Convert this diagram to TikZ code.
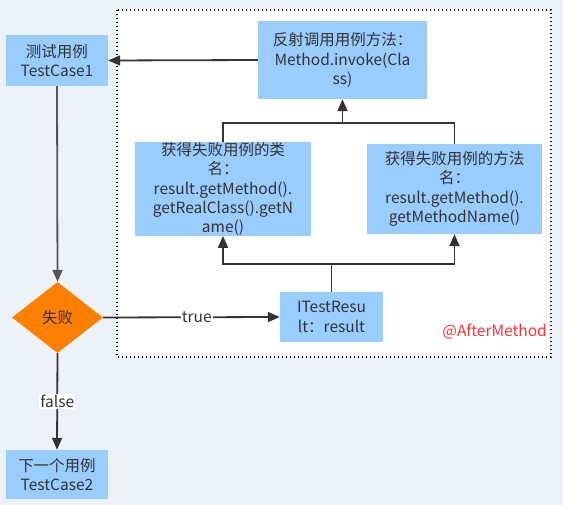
\documentclass[tikz,border=0pt]{standalone}
\usepackage{fontspec}
\setmainfont{Noto Sans CJK SC}
\usetikzlibrary{shapes.geometric,arrows.meta}
\definecolor{bg}{HTML}{EDF2F9}
\definecolor{boxblue}{HTML}{99CCFF}
\definecolor{dorange}{HTML}{FF8000}
\definecolor{txt}{HTML}{333333}
\definecolor{lgray}{HTML}{555555}
\definecolor{red1}{HTML}{FF3333}
\begin{document}
\begin{tikzpicture}[x=1pt,y=-1pt,
  box/.style={fill=boxblue, draw=none, inner sep=0pt, align=center, text=txt, font=\fontsize{15.5}{19.3}\selectfont},
  dia/.style={diamond, fill=dorange, draw=none, inner sep=0pt, text=txt, font=\fontsize{15.5}{19}\selectfont},
  conn/.style={draw=txt, line width=1.8pt},
  arr/.style={conn, -{Triangle[length=12pt,width=10pt]}},
  lbl/.style={fill=white, inner sep=1pt, text=txt, font=\fontsize{15.5}{17}\selectfont}]
\useasboundingbox (0,0) rectangle (563,505);
\fill[bg] (0,0) rectangle (563,505);
\draw[fill=white, draw=black, line width=1.3pt, dash pattern=on 1.4pt off 2.6pt] (117,10) rectangle (551,357);

\node[box, minimum width=102pt, minimum height=51pt] (tc1) at (57,60.5) {测试用例\\TestCase1};
\node[box, minimum width=169pt, minimum height=78pt] (inv) at (342.5,60) {反射调用用例方法：\\Method.invoke(Cla\\ss)};
\node[box, minimum width=176pt, minimum height=90pt] (cls) at (223,189) {获得失败用例的类\\名：\\result.getMethod().\\getRealClass().getN\\ame()};
\node[box, minimum width=175pt, minimum height=90pt] (mth) at (454.5,189) {获得失败用例的方法\\名：\\result.getMethod().\\getMethodName()};
\node[box, minimum width=103pt, minimum height=50pt] (itr) at (331.5,317) {ITestResu\\lt：result};
\node[dia, minimum width=91pt, minimum height=71pt] (fail) at (57.5,317.5) {失败};
\node[box, minimum width=102pt, minimum height=49pt] (tc2) at (57,474.5) {下一个用例\\TestCase2};
\node[anchor=east, text=red1, font=\fontsize{15.5}{17}\selectfont, inner sep=0pt] (am) at (547,332) {@AfterMethod};

\coordinate (j1) at (331.5,264);
\coordinate (j2) at (342.5,123);

\draw[arr] (inv.west) -- (tc1.east);
\draw[arr, draw=lgray] (tc1.south) -- (fail.north);
\draw[arr] (fail.east) -- node[lbl, pos=0.53] {true} (itr.west);
\draw[arr] (fail.south) -- node[lbl] {false} (tc2.north);
\draw[conn] (itr.north) -- (j1);
\draw[arr] (j1) -| (cls.south);
\draw[arr] (j1) -| (mth.south);
\draw[conn] (cls.north) |- (j2) -| (mth.north);
\draw[arr] (j2) -- (inv.south);
\end{tikzpicture}
\end{document}
